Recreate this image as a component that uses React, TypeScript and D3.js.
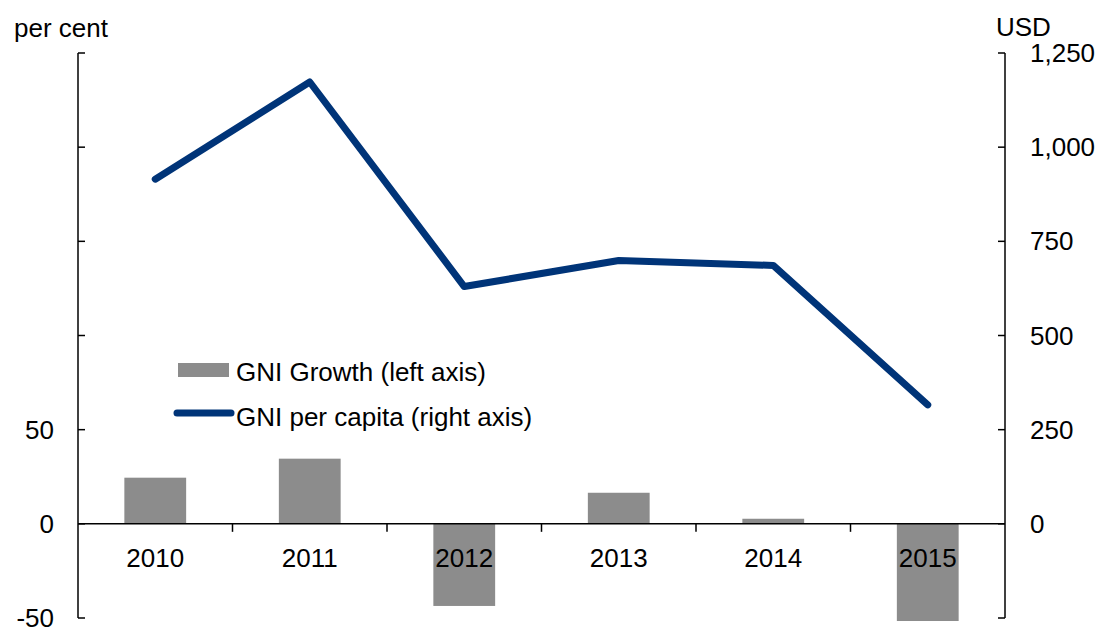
import { useRef, useEffect } from "react";
import * as d3 from "d3";

const years = ["2010", "2011", "2012", "2013", "2014", "2015"];
// GNI growth, per cent (left axis)
const growth = [24.5, 34.6, -43.6, 16.5, 2.7, -51.6];
// GNI per capita, USD (right axis)
const perCapita = [915, 1173, 630, 699, 686, 316];

const leftTicks = [-50, 0, 50, 100, 150, 200, 250];
const leftLabels = [-50, 0, 50];
const rightTicks = [-250, 0, 250, 500, 750, 1000, 1250];
const rightLabels = [0, 250, 500, 750, 1000, 1250];

const App = () => {
  const svgRef = useRef<SVGSVGElement>(null);

  useEffect(() => {
    const width = 1098;
    const height = 628;
    const left = 78;
    const right = 1005;
    const top = 53;
    const bottom = 618;
    const font = "Liberation Sans, Arial, sans-serif";
    const fs = 26;

    const svg = d3.select(svgRef.current).attr("width", width).attr("height", height);
    svg.selectAll("*").remove();

    const x = d3.scaleBand().domain(years).range([left, right]).paddingInner(0).paddingOuter(0);
    const yL = d3.scaleLinear().domain([-50, 250]).range([bottom, top]);
    const yR = d3.scaleLinear().domain([-250, 1250]).range([bottom, top]);

    const barW = x.bandwidth() * 0.4;

    // bars
    svg
      .append("g")
      .selectAll("rect")
      .data(growth)
      .join("rect")
      .attr("x", (_, i) => x(years[i])! + (x.bandwidth() - barW) / 2)
      .attr("width", barW)
      .attr("y", (d) => yL(Math.max(0, d)))
      .attr("height", (d) => Math.abs(yL(d) - yL(0)))
      .attr("fill", "#8c8c8c");

    // category labels
    svg
      .append("g")
      .selectAll("text")
      .data(years)
      .join("text")
      .attr("x", (d) => x(d)! + x.bandwidth() / 2)
      .attr("y", yL(0) + 43)
      .attr("text-anchor", "middle")
      .attr("font-family", font)
      .attr("font-size", fs)
      .attr("fill", "#000")
      .text((d) => d);

    // zero line with category separators
    const axis = svg.append("g").attr("stroke", "#000").attr("stroke-width", 1.5);
    axis.append("line").attr("x1", left).attr("x2", right).attr("y1", yL(0)).attr("y2", yL(0));
    axis
      .selectAll("line.sep")
      .data(years.slice(1))
      .join("line")
      .attr("class", "sep")
      .attr("x1", (d) => x(d)!)
      .attr("x2", (d) => x(d)!)
      .attr("y1", yL(0))
      .attr("y2", yL(0) + 8);

    // left axis
    axis.append("line").attr("x1", left).attr("x2", left).attr("y1", top).attr("y2", bottom);
    axis
      .selectAll("line.lt")
      .data(leftTicks)
      .join("line")
      .attr("class", "lt")
      .attr("x1", left)
      .attr("x2", left + 7)
      .attr("y1", (d) => yL(d))
      .attr("y2", (d) => yL(d));

    // right axis
    axis.append("line").attr("x1", right).attr("x2", right).attr("y1", top).attr("y2", bottom);
    axis
      .selectAll("line.rt")
      .data(rightTicks)
      .join("line")
      .attr("class", "rt")
      .attr("x1", right - 7)
      .attr("x2", right)
      .attr("y1", (d) => yR(d))
      .attr("y2", (d) => yR(d));

    svg
      .append("g")
      .selectAll("text")
      .data(leftLabels)
      .join("text")
      .attr("x", 54)
      .attr("y", (d) => yL(d) + 9)
      .attr("text-anchor", "end")
      .attr("font-family", font)
      .attr("font-size", fs)
      .text((d) => d3.format(",")(d).replace("−", "-"));

    svg
      .append("g")
      .selectAll("text")
      .data(rightLabels)
      .join("text")
      .attr("x", 1030)
      .attr("y", (d) => yR(d) + 9)
      .attr("text-anchor", "start")
      .attr("font-family", font)
      .attr("font-size", fs)
      .text((d) => d3.format(",")(d));

    // units
    svg.append("text").attr("x", 14).attr("y", 37).attr("font-family", font).attr("font-size", fs).text("per cent");
    svg.append("text").attr("x", 996).attr("y", 36).attr("font-family", font).attr("font-size", fs).text("USD");

    // line
    const line = d3
      .line<number>()
      .x((_, i) => x(years[i])! + x.bandwidth() / 2)
      .y((d) => yR(d));

    svg
      .append("path")
      .datum(perCapita)
      .attr("d", line)
      .attr("fill", "none")
      .attr("stroke", "#003478")
      .attr("stroke-width", 7)
      .attr("stroke-linecap", "round")
      .attr("stroke-linejoin", "round");

    // legend
    const lg = svg.append("g").attr("font-family", font).attr("font-size", fs);
    lg.append("rect").attr("x", 178).attr("y", 363).attr("width", 51).attr("height", 14).attr("fill", "#8c8c8c");
    lg.append("text").attr("x", 236).attr("y", 381).text("GNI Growth (left axis)");
    lg.append("line")
      .attr("x1", 177)
      .attr("x2", 231)
      .attr("y1", 413)
      .attr("y2", 413)
      .attr("stroke", "#003478")
      .attr("stroke-width", 7)
      .attr("stroke-linecap", "round");
    lg.append("text").attr("x", 236).attr("y", 426).text("GNI per capita (right axis)");
  }, []);

  return <svg ref={svgRef} style={{ position: "absolute", left: 0, top: 0, background: "#fff" }} />;
};

export default App;
